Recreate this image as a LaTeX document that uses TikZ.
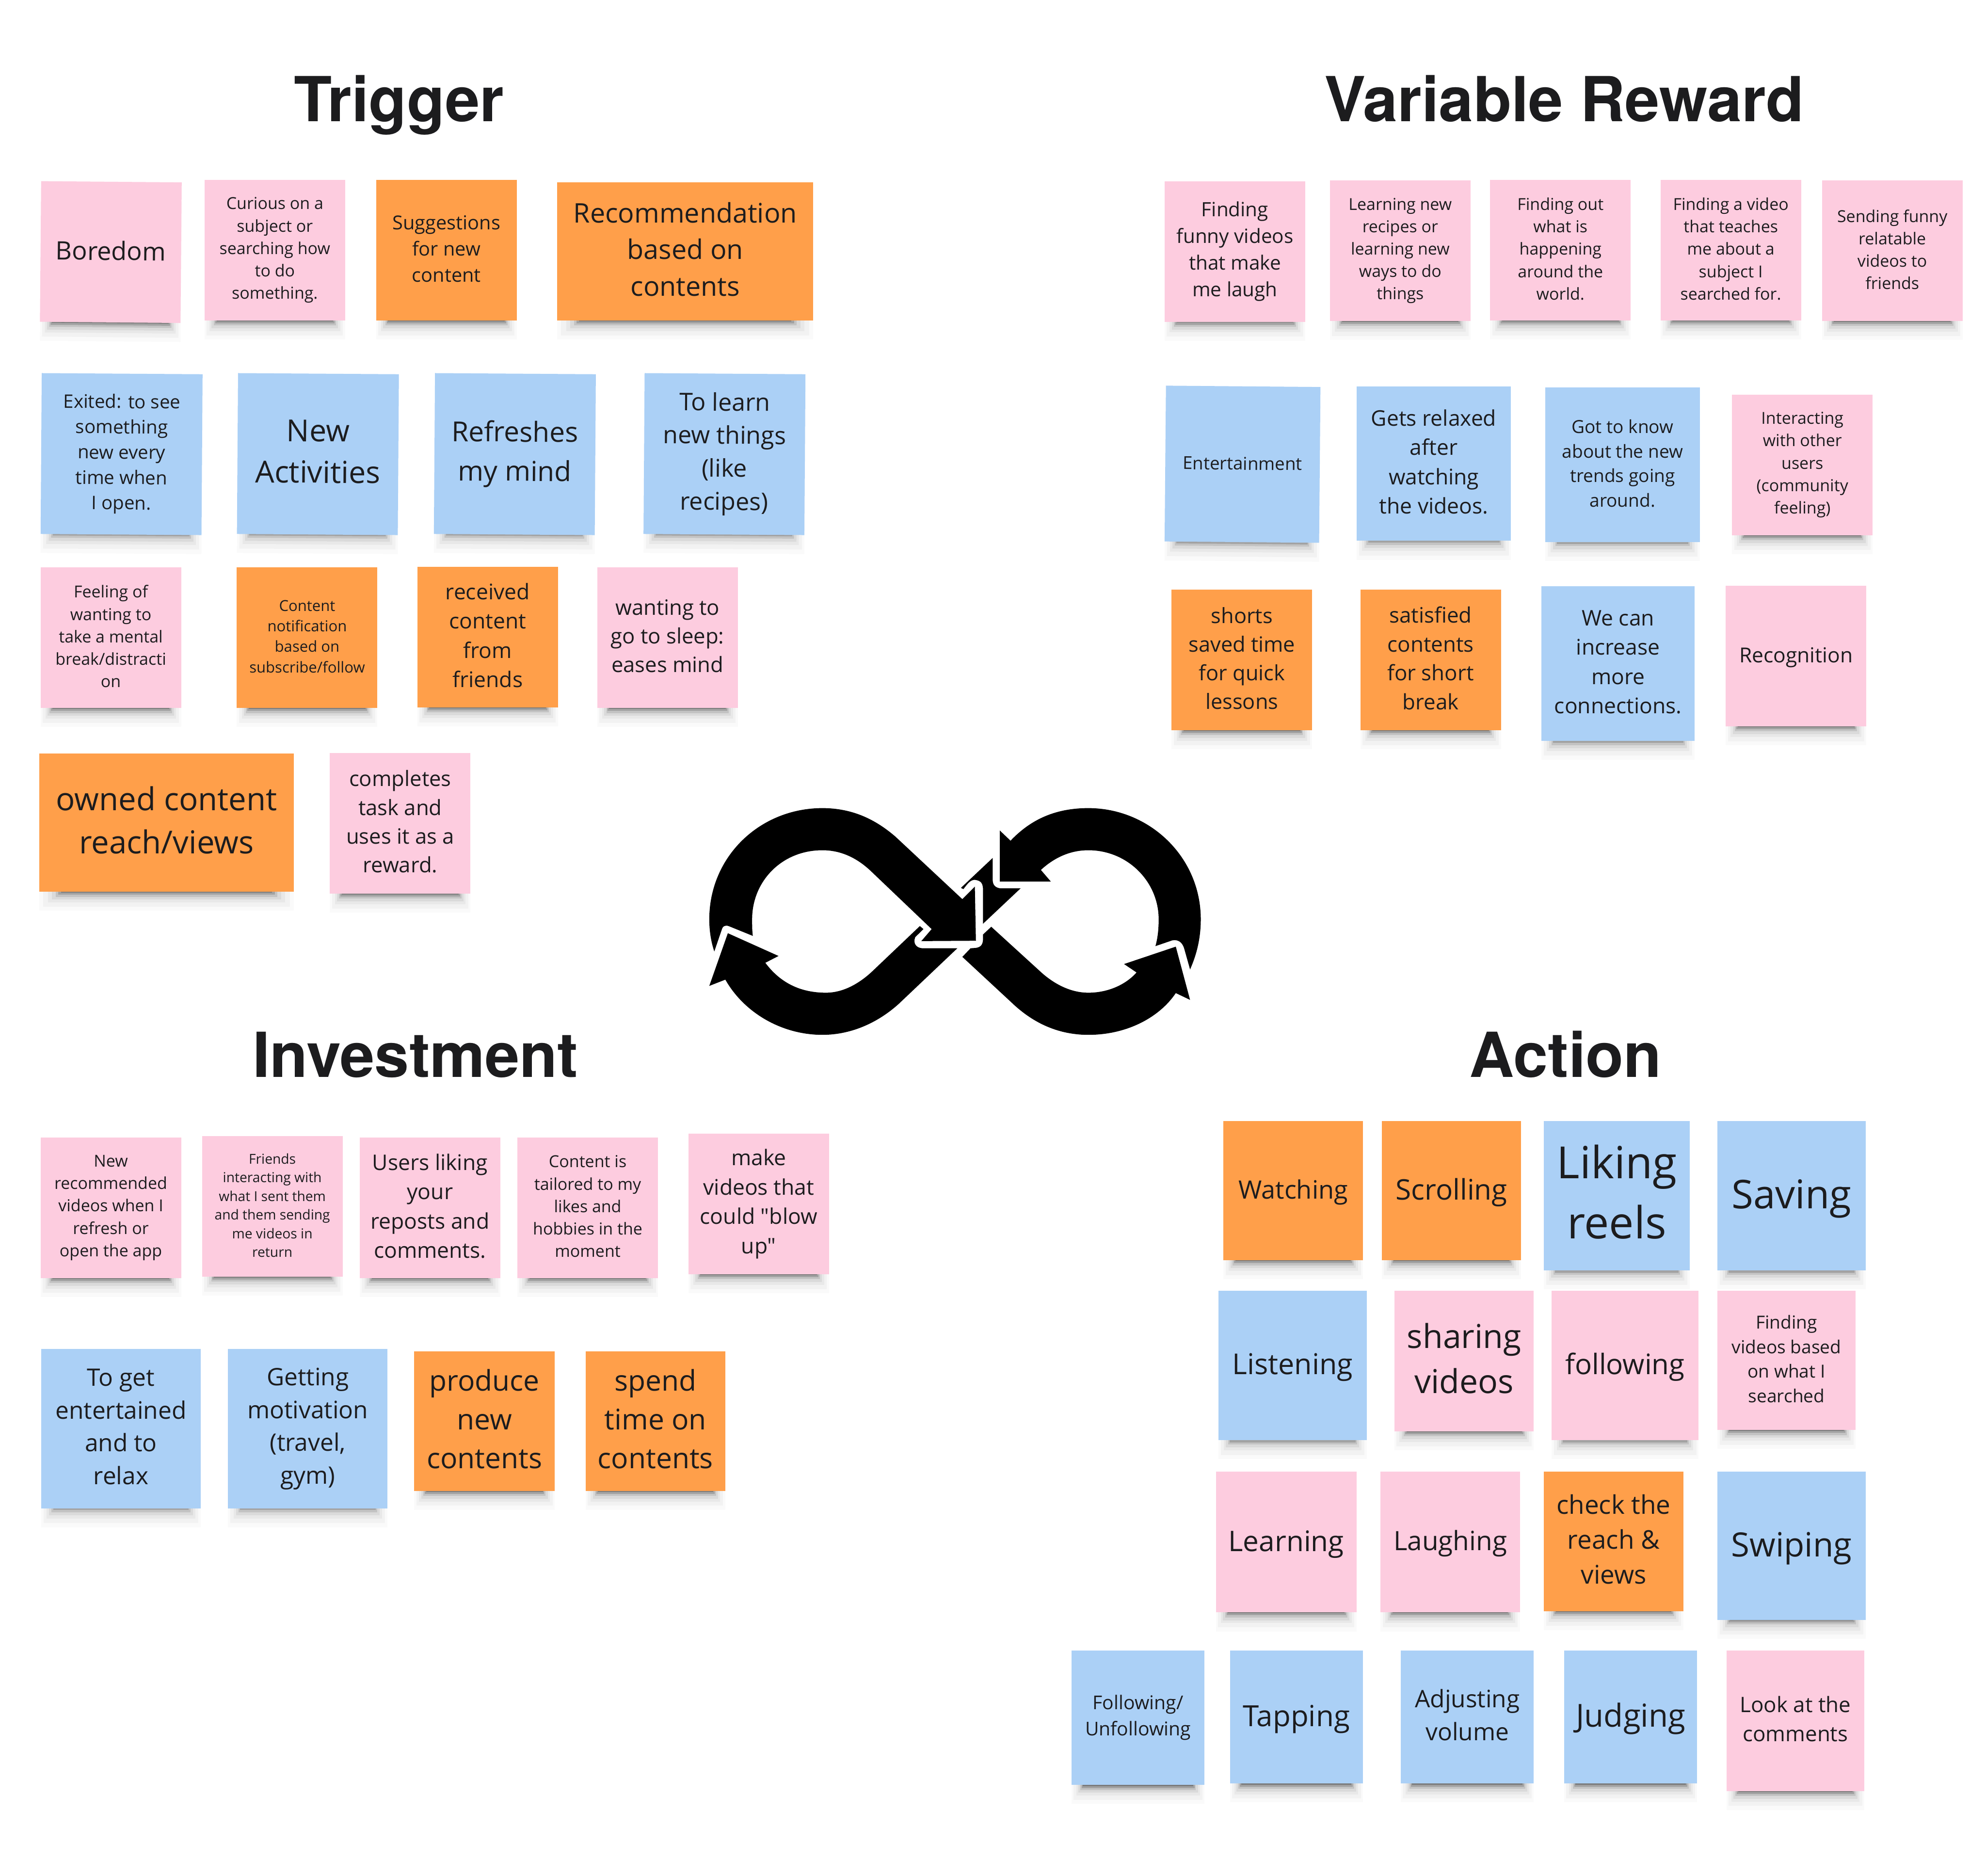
\documentclass[tikz,border=0pt]{standalone}
\usepackage{fontspec}
\usetikzlibrary{shadows}
\newfontfamily\notefont{Open Sans}
\newfontfamily\titlefont{TeX Gyre Heros}
\definecolor{NotePink}{HTML}{FDCCDF}
\definecolor{NoteBlue}{HTML}{ABD0F6}
\definecolor{NoteOrange}{HTML}{FF9F4A}
\definecolor{InkDark}{HTML}{1C1C1E}
\newcommand{\noteline}{\rule[-.173em]{0pt}{1.242em}}
\begin{document}
\begin{tikzpicture}[
    x=1pt,y=-1pt,
    fs/.style={font=\notefont\linespread{1.36}\fontsize{#1}{#1}\selectfont},
    fsl/.style 2 args={font=\notefont\fontsize{#1}{#2}\selectfont},
    softlayer/.style n args={3}{general shadow={fill=black,opacity=#2,shadow scale=#1,shadow yshift=-#3pt}},
    sticky/.style={minimum width=111pt,minimum height=111pt,inner sep=0pt,align=center,text=InkDark,
      softlayer={1}{.02}{15},softlayer={.97}{.03}{13.8},softlayer={.93}{.04}{13.2},softlayer={.9}{.06}{13},
      softlayer={.87}{.1}{12.8},softlayer={.85}{.17}{12.5},softlayer={.83}{.24}{12.2}},
    oneline/.style={execute at begin node={\rule[-.433em]{0pt}{1.502em}}},
    pinknote/.style={sticky,fill=NotePink},
    bluenote/.style={sticky,fill=NoteBlue,minimum width=127pt,minimum height=127pt},
    orangenote/.style={sticky,fill=NoteOrange},
    headline/.style={font=\titlefont\bfseries\fontsize{49}{49}\selectfont,text=InkDark,inner sep=0pt,anchor=base}
  ]
  \useasboundingbox (0,0) rectangle (1568,1481);
  \fill[white] (0,0) rectangle (1568,1481);

  % headings
  \node[headline] (trigger) at (315,96) {Trigger};
  \node[headline] (reward) at (1235,96) {Variable Reward};
  \node[headline] (invest) at (328,850.5) {Investment};
  \node[headline] (action) at (1236,850.5) {Action};

  % trigger
  \node[pinknote,oneline,fs=20,rotate=-.5] (boredom) at (87.5,199) {Boredom};
  \node[pinknote,fs=13] (curious) at (217,197.5) {Curious on a\\subject or\\searching how\\to do\\something.\noteline};
  \node[orangenote,fs=15.2] (suggest) at (352.5,197.5) {Suggestions\\for new\\content\noteline};
  \node[orangenote,fs=21.3,minimum width=202pt,minimum height=109pt] (recommend) at (541,198.5) {Recommendation\\based on\\contents\noteline};
  \node[bluenote,fs=14.7,rotate=-.4] (exited) at (96,358.5) {Exited: to see\\something\\new every\\time when\\I open.\noteline};
  \node[bluenote,fs=24,rotate=-.4] (activities) at (251,358.5) {New\\Activities\noteline};
  \node[bluenote,fsl={21.8}{31},rotate=-.4] (refresh) at (406.5,358.5) {Refreshes\\my mind\noteline};
  \node[bluenote,fs=19.2,rotate=-.4] (tolearn) at (572,358.5) {To learn\\new things\\(like\\recipes)\noteline};
  \node[pinknote,fs=13] (feeling) at (87.5,503.5) {Feeling of\\wanting to\\take a mental\\break/distracti\\on\noteline};
  \node[orangenote,fs=11.9] (notify) at (242.5,503.5) {Content\\notification\\based on\\subscribe/follow\noteline};
  \node[orangenote,fs=17] (received) at (385,503) {received\\content\\from\\friends\noteline};
  \node[pinknote,fs=16.7] (sleep) at (527,503.5) {wanting to\\go to sleep:\\eases mind\noteline};
  \node[orangenote,fs=25,minimum width=201pt,minimum height=109pt] (owned) at (131.5,649.5) {owned content\\reach/views\noteline};
  \node[pinknote,fs=16.7] (completes) at (316,650) {completes\\task and\\uses it as a\\reward.\noteline};

  % variable reward
  \node[pinknote,fs=15.5] (funny) at (975,198.5) {Finding\\funny videos\\that make\\me laugh\noteline};
  \node[pinknote,fs=13] (recipes) at (1105.5,198) {Learning new\\recipes or\\learning new\\ways to do\\things\noteline};
  \node[pinknote,fs=13] (world) at (1232,197.5) {Finding out\\what is\\happening\\around the\\world.\noteline};
  \node[pinknote,fs=13] (teaches) at (1366.5,197.5) {Finding a video\\that teaches\\me about a\\subject I\\searched for.\noteline};
  \node[pinknote,fs=13] (sending) at (1494,198) {Sending funny\\relatable\\videos to\\friends\noteline};
  \node[bluenote,oneline,fs=14,minimum width=122pt,minimum height=123pt,rotate=-.5] (entertain) at (981,366.5) {Entertainment};
  \node[bluenote,fs=17,minimum width=122pt,minimum height=122pt] (relaxed) at (1132,366) {Gets relaxed\\after\\watching\\the videos.\noteline};
  \node[bluenote,fs=14.2,minimum width=122pt,minimum height=122pt] (trends) at (1281,367) {Got to know\\about the new\\trends going\\around.\noteline};
  \node[pinknote,fs=13] (interact) at (1423,367) {Interacting\\with other\\users\\(community\\feeling)\noteline};
  \node[orangenote,fs=16.6] (shorts) at (980.5,521) {shorts\\saved time\\for quick\\lessons\noteline};
  \node[orangenote,fs=16.8] (satisfied) at (1129.5,521) {satisfied\\contents\\for short\\break\noteline};
  \node[bluenote,fs=17,minimum width=121pt,minimum height=122pt] (connect) at (1277.5,524) {We can\\increase\\more\\connections.\noteline};
  \node[pinknote,oneline,fs=16.3] (recognition) at (1418,518) {Recognition};

  % investment
  \node[pinknote,fs=13] (newvideos) at (87.5,953.5) {New\\recommended\\videos when I\\refresh or\\open the app\noteline};
  \node[pinknote,fs=10.8] (friends) at (215,952.5) {Friends\\interacting with\\what I sent them\\and them sending\\me videos in\\return\noteline};
  \node[pinknote,fs=17] (liking) at (339.5,953.5) {Users liking\\your\\reposts and\\comments.\noteline};
  \node[pinknote,fs=13] (tailored) at (464,953.5) {Content is\\tailored to my\\likes and\\hobbies in the\\moment\noteline};
  \node[pinknote,fs=17] (blowup) at (599,950.5) {make\\videos that\\could "blow\\up"\noteline};
  \node[bluenote,fs=19,minimum width=126pt,minimum height=126pt] (toget) at (95.5,1128) {To get\\entertained\\and to\\relax\noteline};
  \node[bluenote,fs=19,minimum width=126pt,minimum height=126pt] (motivation) at (243,1128) {Getting\\motivation\\(travel,\\gym)\noteline};
  \node[orangenote,fs=22.5,minimum height=110pt] (produce) at (382.5,1122) {produce\\new\\contents\noteline};
  \node[orangenote,fs=22.5,minimum width=110pt,minimum height=110pt] (spend) at (517.5,1122) {spend\\time on\\contents\noteline};

  % action
  \node[orangenote,oneline,fs=20,minimum width=110pt,minimum height=110pt] (watching) at (1021,940) {Watching};
  \node[orangenote,oneline,fs=22.4,minimum width=110pt,minimum height=110pt] (scrolling) at (1146,940) {Scrolling};
  \node[bluenote,fs=35,minimum width=115pt,minimum height=118pt] (reels) at (1276.5,944) {Liking\\reels\noteline};
  \node[bluenote,oneline,fs=31.3,minimum width=117pt,minimum height=118pt] (saving) at (1414.5,944) {Saving};
  \node[bluenote,oneline,fs=22.7,minimum width=117pt,minimum height=118pt] (listening) at (1020.5,1078) {Listening};
  \node[pinknote,fs=26,minimum width=110pt] (sharing) at (1156,1074.5) {sharing\\videos\noteline};
  \node[pinknote,oneline,fs=22.3,minimum width=116pt,minimum height=118pt] (following) at (1283,1078) {following};
  \node[pinknote,fs=14.2,minimum width=109pt,minimum height=110pt] (searched) at (1410.5,1074) {Finding\\videos based\\on what I\\searched\noteline};
  \node[pinknote,oneline,fs=22.4] (learning) at (1015.5,1217.5) {Learning};
  \node[pinknote,oneline,fs=21,minimum width=110pt] (laughing) at (1145,1217.5) {Laughing};
  \node[orangenote,fs=20.3,minimum width=110pt,minimum height=110pt] (views) at (1274,1217) {check the\\reach \&\\views\noteline};
  \node[bluenote,oneline,fs=26.4,minimum width=117pt,minimum height=117pt] (swiping) at (1414.5,1220.5) {Swiping};
  \node[bluenote,fs=15,minimum width=105pt,minimum height=106pt] (unfollow) at (898.5,1356) {Following/\\Unfollowing\noteline};
  \node[bluenote,oneline,fs=23,minimum width=105pt,minimum height=105pt] (tapping) at (1023.5,1355.5) {Tapping};
  \node[bluenote,fs=19,minimum width=105pt,minimum height=105pt] (volume) at (1158.5,1355.5) {Adjusting\\volume\noteline};
  \node[bluenote,oneline,fs=25,minimum width=105pt,minimum height=105pt] (judging) at (1287.5,1355.5) {Judging};
  \node[pinknote,fs=16.8,minimum width=109pt] (comments) at (1417.5,1358.5) {Look at the\\comments\noteline};

  % loop icon
  \begin{scope}[x=.2818pt,y=-.1415pt,shift={(535.2pt,-612.53pt)}]
    \fill[black] (102,980) .. controls (92,920) and (88,860) .. (88,800)
      .. controls (88,450) and (230,180) .. (405,180)
      .. controls (490,180) and (555,245) .. (610,340)
      -- (797,688) -- (832,618) -- (835,920) -- (682,922) -- (711,855)
      -- (540,530) .. controls (500,455) and (455,415) .. (405,415)
      .. controls (290,415) and (208,590) .. (208,800)
      .. controls (208,835) and (208,865) .. (210,893)
      -- (142,838) .. controls (132,832) and (126,840) .. (124,852) -- cycle;
    \fill[black] (678,838) -- (688,855) -- (665,900) .. controls (658,935) and (668,960) .. (685,962)
      -- (783,962) -- (620,1270) .. controls (565,1370) and (490,1445) .. (405,1445)
      .. controls (290,1445) and (185,1320) .. (133,1137) -- (88,1172) -- (140,878) -- (282,1005) -- (245,1043)
      .. controls (285,1150) and (340,1210) .. (415,1210)
      .. controls (460,1210) and (505,1165) .. (545,1090) -- cycle;
    \fill[black] (878,842) -- (1020,1100) .. controls (1060,1170) and (1105,1210) .. (1150,1210)
      .. controls (1205,1210) and (1255,1165) .. (1285,1097) -- (1250,1050) -- (1395,953) -- (1435,1250) -- (1395,1212)
      .. controls (1350,1345) and (1260,1445) .. (1150,1445)
      .. controls (1060,1445) and (990,1370) .. (935,1265)
      -- (797,1010) -- (820,962) -- (835,960) .. controls (850,955) and (855,940) .. (855,905) -- (855,885) -- cycle;
    \fill[black] (882,458) -- (793,625) -- (800,632) .. controls (812,600) and (820,580) .. (832,580)
      .. controls (850,585) and (855,600) .. (855,640) -- (855,825) -- (960,628) -- (905,628)
      .. controls (890,625) and (882,610) .. (882,580) -- cycle;
    \fill[black] (902,305) -- (902,590) -- (1045,590) -- (1017,525)
      .. controls (1055,455) and (1100,415) .. (1150,415)
      .. controls (1260,415) and (1347,590) .. (1347,800)
      .. controls (1347,850) and (1345,900) .. (1338,950)
      -- (1385,918) .. controls (1400,912) and (1412,925) .. (1418,960) -- (1435,1080)
      .. controls (1455,990) and (1465,900) .. (1465,800)
      .. controls (1465,450) and (1320,180) .. (1150,180)
      .. controls (1060,180) and (990,240) .. (932,362) -- cycle;
  \end{scope}
\end{tikzpicture}
\end{document}
